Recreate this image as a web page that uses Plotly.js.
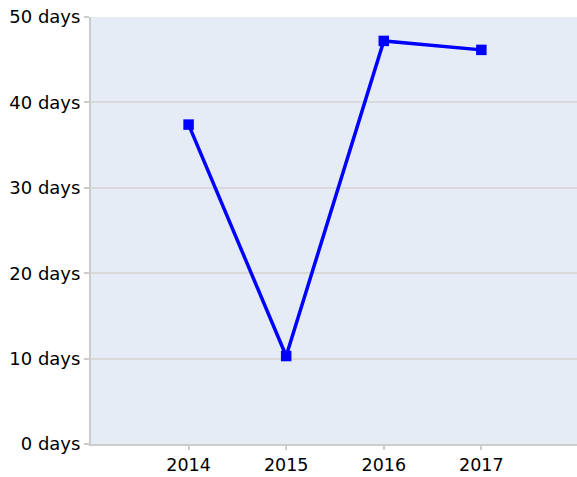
<!DOCTYPE html>
<html>
<head>
<meta charset="utf-8">
<script src="https://cdn.plot.ly/plotly-3.0.1.min.js"></script>
<style>html,body{margin:0;padding:0;background:#fff;}#chart{width:577px;height:477px;}</style>
</head>
<body>
<div id="chart"></div>
<script>
var years = [2014, 2015, 2016, 2017];
var days = [37.4, 10.3, 47.2, 46.15];
var yTickVals = [0, 10, 20, 30, 40, 50];
var yTickText = ["0 days", "10 days", "20 days", "30 days", "40 days", "50 days"];

var trace = {
  x: years,
  y: days,
  type: 'scatter',
  mode: 'lines+markers',
  line: {color: '#0000ff', width: 3.5},
  marker: {color: '#0000ff', symbol: 'square', size: 10.5},
  hoverinfo: 'x+y'
};

var fnt = {family: 'DejaVu Sans, Verdana, sans-serif', size: 18, color: '#000'};
var xfnt = {family: 'DejaVu Sans, Verdana, sans-serif', size: 17.5, color: '#000'};

var layout = {
  width: 577,
  height: 477,
  margin: {l: 91, r: 0, t: 17, b: 33},
  paper_bgcolor: '#ffffff',
  plot_bgcolor: '#e5ecf6',
  showlegend: false,
  font: fnt,
  xaxis: {
    range: [2013, 2017.98],
    tickvals: years,
    ticktext: years.map(String),
    showgrid: false,
    zeroline: false,
    showline: true,
    linecolor: '#cccccc',
    linewidth: 2,
    ticks: 'outside',
    ticklen: 4,
    tickwidth: 2,
    tickcolor: '#cccccc',
    tickfont: xfnt
  },
  yaxis: {
    range: [0, 50],
    tickvals: yTickVals,
    ticktext: yTickText,
    showgrid: true,
    gridcolor: '#d9d9d9',
    gridwidth: 2,
    zeroline: false,
    showline: true,
    linecolor: '#cccccc',
    linewidth: 2,
    ticks: 'outside',
    ticklen: 5,
    tickwidth: 2,
    tickcolor: '#cccccc',
    tickfont: fnt
  }
};

Plotly.newPlot('chart', [trace], layout, {displayModeBar: false, staticPlot: true});
</script>
</body>
</html>
